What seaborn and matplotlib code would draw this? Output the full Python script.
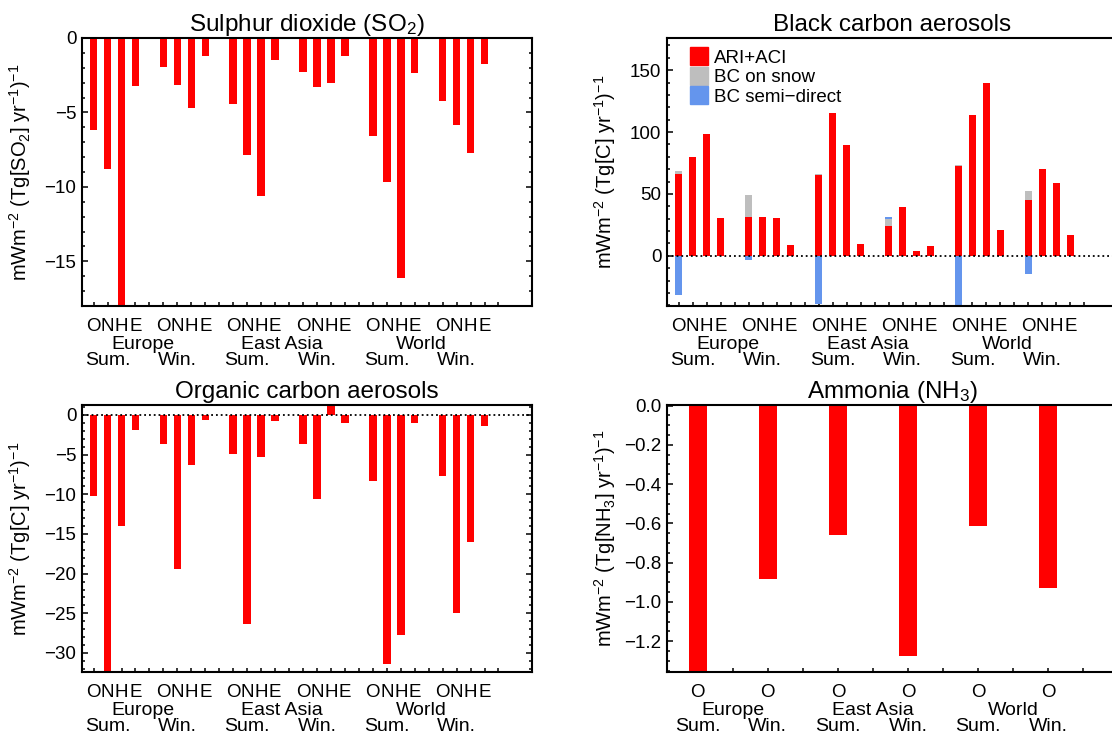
import matplotlib
matplotlib.use("Agg")
import matplotlib.pyplot as plt
import matplotlib.transforms as mtransforms
from matplotlib.patches import Patch
from matplotlib.ticker import MultipleLocator
import numpy as np
import pandas as pd
import seaborn as sns

# ---- data ----
regions = ["Europe", "East Asia", "World"]
seasons = ["Sum.", "Win."]
species = ["O", "N", "H", "E"]

# order: Europe Sum, Europe Win, East Asia Sum, East Asia Win, World Sum, World Win
# each group: O, N, H, E
so2 = [-6.15, -8.8, -18.5, -3.25,
       -1.95, -3.15, -4.7, -1.2,
       -4.4, -7.85, -10.6, -1.5,
       -2.3, -3.3, -3.05, -1.2,
       -6.55, -9.7, -16.15, -2.35,
       -4.2, -5.85, -7.7, -1.75]

bc_ari_aci = [66.2, 79.7, 98.6, 30.8,
              31.1, 31.6, 30.5, 8.9,
              65.1, 115.4, 89.5, 9.2,
              24.3, 39.2, 3.8, 7.8,
              72.2, 113.5, 139.7, 21.1,
              45.1, 70.3, 58.9, 17.0]
bc_snow = [2.7, 0, 0, 0,
           18.1, 0, 0, 0,
           0.8, 0, 0, 0,
           5.4, 0, 0, 0,
           1.0, 0, 0, 0,
           7.1, 0, 0, 0]
bc_semi = [-31.6, 0, 0, 0,
           -3.5, 0, 0, 0,
           -39.2, 0, 0, 0,
           1.4, 0, 0, 0,
           -43.0, 0, 0, 0,
           -14.3, 0, 0, 0]

oc = [-10.15, -33.5, -13.95, -1.9,
      -3.6, -19.4, -6.35, -0.65,
      -4.9, -26.4, -5.25, -0.8,
      -3.65, -10.65, 1.3, -0.95,
      -8.35, -31.35, -27.75, -1.05,
      -7.75, -24.95, -15.95, -1.35]

nh3 = [-1.4, -0.885, -0.66, -1.275, -0.615, -0.93]

RED = "#ff0000"
GREY = "#bebebe"
BLUE = "#6495ed"

sns.set_style("white")
plt.rcParams["font.family"] = ["Liberation Sans", "DejaVu Sans"]
plt.rcParams["mathtext.fontset"] = "custom"
plt.rcParams["mathtext.rm"] = "Liberation Sans"
plt.rcParams["mathtext.it"] = "Liberation Sans:italic"
plt.rcParams["mathtext.default"] = "regular"
for key in ["text.color", "axes.labelcolor", "xtick.color", "ytick.color",
            "axes.edgecolor"]:
    plt.rcParams[key] = "black"
FS = 13.5

# bar slots: 4 bars per group, one empty slot between groups
pos4 = [1 + 5 * g + j for g in range(6) for j in range(4)]
pos1 = [1 + 2 * g for g in range(6)]


def draw_bars(ax, pos, values, color, width):
    df = pd.DataFrame({"pos": pos, "val": values})
    sns.barplot(data=df, x="pos", y="val", native_scale=True, orient="x",
                color=color, saturation=1, width=width, errorbar=None,
                linewidth=0, ax=ax)


def style_axes(ax, title, ylabel, ylim, major, minor, xlim):
    ax.set_xlim(xlim)
    ax.set_ylim(ylim)
    ax.yaxis.set_major_locator(MultipleLocator(major))
    ax.yaxis.set_minor_locator(MultipleLocator(minor))
    ax.tick_params(axis="y", which="both", direction="in", left=True, right=True,
                   width=1.1, labelsize=FS, pad=4)
    ax.tick_params(axis="y", which="major", length=4.3)
    ax.tick_params(axis="y", which="minor", length=2.5)
    ax.tick_params(axis="x", which="major", direction="in", length=3, width=1.1,
                   bottom=True, top=False, labelsize=FS, pad=8.5)
    for s in ax.spines.values():
        s.set_linewidth(1.5)
        s.set_color("black")
    ax.set_xlabel("")
    ax.set_ylabel(ylabel, fontsize=14.5)
    ax.yaxis.set_label_coords(-0.108, 0.5)
    ax.set_title(title, fontsize=17.5, pad=5)


def group_labels(ax, ticks, ticklabels, region_x, season_x):
    ax.set_xticks(ticks)
    ax.set_xticklabels(ticklabels)
    trans = mtransforms.blended_transform_factory(ax.transData, ax.transAxes)
    for r, x in zip(regions, region_x):
        ax.annotate(r, xy=(x, 0), xycoords=trans, xytext=(0, -31.0),
                    textcoords="offset points", ha="center", va="baseline",
                    fontsize=14, annotation_clip=False)
    for i, x in enumerate(season_x):
        ax.annotate(seasons[i % 2], xy=(x, 0), xycoords=trans, xytext=(0, -42.6),
                    textcoords="offset points", ha="center", va="baseline",
                    fontsize=14, annotation_clip=False)


def four_group_axes(ax):
    ticks = list(range(1, 31))
    labels = [species[(t - 1) % 5] if (t - 1) % 5 < 4 else "" for t in ticks]
    group_labels(ax, ticks, labels,
                 [4.5 + 10 * r for r in range(3)],
                 [2.0 + 5 * g for g in range(6)])


fig = plt.figure(figsize=(11.12, 7.36), dpi=100)
W, H = 1112, 736


def add_ax(x0, y0, x1, y1):
    return fig.add_axes([x0 / W, 1 - y1 / H, (x1 - x0) / W, (y1 - y0) / H])


ax_so2 = add_ax(82, 38, 532, 306)
ax_bc = add_ax(667, 38, 1118, 306)
ax_oc = add_ax(82, 405, 532, 672)
ax_nh3 = add_ax(667, 405, 1118, 672)

XL4 = (0.17, 32.4)
BW = 0.54

# Sulphur dioxide
draw_bars(ax_so2, pos4, so2, RED, BW)
style_axes(ax_so2, "Sulphur dioxide (SO$_2$)",
           r"mWm$^{-2}$ (Tg[SO$_2$] yr$^{-1}$)$^{-1}$", (-18, 0), 5, 1, XL4)
four_group_axes(ax_so2)

# Black carbon (stacked: semi-direct, snow, ARI+ACI)
ari = np.array(bc_ari_aci)
snow = np.array(bc_snow)
semi = np.array(bc_semi)
draw_bars(ax_bc, pos4, np.where(semi > 0, ari + snow + semi, semi), BLUE, BW)
draw_bars(ax_bc, pos4, ari + snow, GREY, BW)
draw_bars(ax_bc, pos4, ari, RED, BW)
ax_bc.axhline(0, color="black", ls=":", lw=1.3, zorder=3)
style_axes(ax_bc, "Black carbon aerosols",
           r"mWm$^{-2}$ (Tg[C] yr$^{-1}$)$^{-1}$", (-40.5, 176), 50, 10, XL4)
four_group_axes(ax_bc)
handles = [Patch(color=RED), Patch(color=GREY), Patch(color=BLUE)]
ax_bc.legend(handles, ["ARI+ACI", "BC on snow", "BC semi\u2212direct"],
             loc="upper left", bbox_to_anchor=(0.05, 0.965), frameon=False,
             fontsize=FS, handlelength=1.0, handleheight=1.1,
             handletextpad=0.3, labelspacing=0.0, borderpad=0, borderaxespad=0)

# Organic carbon
draw_bars(ax_oc, pos4, oc, RED, BW)
ax_oc.axhline(0, color="black", ls=":", lw=1.3, zorder=3)
style_axes(ax_oc, "Organic carbon aerosols",
           r"mWm$^{-2}$ (Tg[C] yr$^{-1}$)$^{-1}$", (-32.4, 1.26), 5, 1, XL4)
four_group_axes(ax_oc)

# Ammonia
draw_bars(ax_nh3, pos1, nh3, RED, 0.26)
style_axes(ax_nh3, "Ammonia (NH$_3$)",
           r"mWm$^{-2}$ (Tg[NH$_3$] yr$^{-1}$)$^{-1}$", (-1.357, 0.003), 0.2, 0.05,
           (0.12, 13.0))
ticks = list(range(1, 13))
group_labels(ax_nh3, ticks, ["O" if t % 2 == 1 else "" for t in ticks],
             [2 + 4 * r for r in range(3)],
             [1 + 2 * g for g in range(6)])

fig.savefig("out.png", dpi=100)
